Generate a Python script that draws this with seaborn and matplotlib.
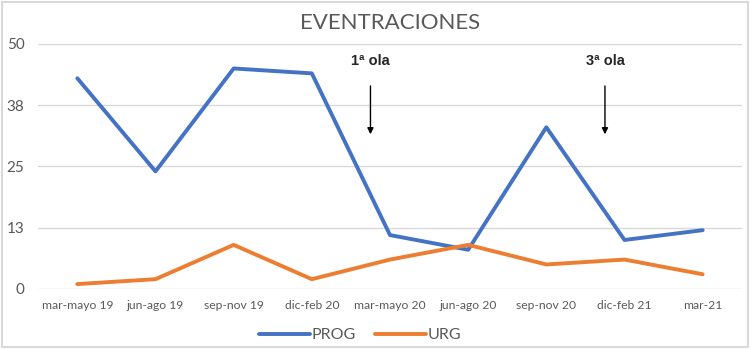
import seaborn as sns
import matplotlib.pyplot as plt
import pandas as pd

periodos = ['mar-mayo 19', 'jun-ago 19', 'sep-nov 19', 'dic-feb 20', 'mar-mayo 20',
            'jun-ago 20', 'sep-nov 20', 'dic-feb 21', 'mar-21']
prog = [43, 24, 45, 44, 11, 8, 33, 10, 12]
urg = [1, 2, 9, 2, 6, 9, 5, 6, 3]
yticks = [0, 12.5, 25, 37.5, 50]
ytick_labels = ['0', '13', '25', '38', '50']
olas = ['1ª ola', '3ª ola']
olas_x = [3.75, 6.75]

df = pd.DataFrame({'pos': list(range(len(periodos))) * 2,
                   'valor': prog + urg,
                   'serie': ['PROG'] * len(prog) + ['URG'] * len(urg)})

sns.set_style('white')
plt.rcParams['font.family'] = ['Lato', 'DejaVu Sans']
gris = '#595959'

fig = plt.figure(figsize=(7.5, 3.49), dpi=100)
ax = fig.add_axes([0.051, 0.172, 0.938, 0.702])

sns.lineplot(data=df, x='pos', y='valor', hue='serie',
             palette={'PROG': '#4472C4', 'URG': '#ED7D31'},
             linewidth=2.8, ax=ax, legend=False)

ax.set_xlim(-0.5, len(periodos) - 0.5)
ax.set_ylim(0, 50)
ax.set_yticks(yticks)
ax.set_yticklabels(ytick_labels, fontsize=11, color=gris)
ax.set_xticks(range(len(periodos)))
ax.set_xticklabels(periodos, fontsize=8.7, color=gris)
ax.tick_params(axis='both', length=0, pad=8)
ax.tick_params(axis='y', pad=10)
ax.grid(axis='y', color='#d9d9d9', linewidth=1)
ax.set_xlabel('')
ax.set_ylabel('')
for s in ax.spines.values():
    s.set_visible(False)

fig.text(0.52, 0.935, 'EVENTRACIONES', ha='center', va='center',
         fontsize=16, color=gris)

for t, x in zip(olas, olas_x):
    ax.text(x, 46.5, t, ha='center', va='center', fontsize=10.5,
            fontweight='bold', family=['Liberation Sans', 'DejaVu Sans'])
    ax.annotate('', xy=(x, 31), xytext=(x, 42),
                arrowprops=dict(arrowstyle='-|>', color='black', lw=1,
                                mutation_scale=9))

handles = [plt.Line2D([], [], color='#4472C4', lw=2.8),
           plt.Line2D([], [], color='#ED7D31', lw=2.8)]
fig.legend(handles, ['PROG', 'URG'], loc='center', bbox_to_anchor=(0.48, 0.04),
           ncol=2, frameon=False, handlelength=3.2, fontsize=11.5,
           labelcolor=gris, columnspacing=1.2, handletextpad=0.1)

fig.patches.append(plt.Rectangle((0.003, 0.005), 0.994, 0.99, transform=fig.transFigure,
                                 fill=False, edgecolor='#d9d9d9', lw=1.5))

fig.savefig('out.png', dpi=100)
